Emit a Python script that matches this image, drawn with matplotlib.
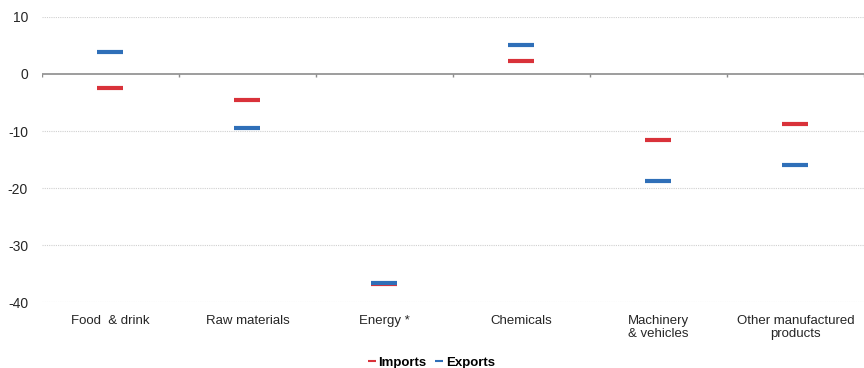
import matplotlib.pyplot as plt
import numpy as np

plt.rcParams['font.family'] = ['Liberation Sans', 'DejaVu Sans']
plt.rcParams['axes.unicode_minus'] = False

categories = ['Food  & drink', 'Raw materials', 'Energy *', 'Chemicals',
              'Machinery\n& vehicles', 'Other manufactured\nproducts']
imports = [-2.4, -4.6, -36.9, 2.2, -11.5, -8.7]
exports = [3.8, -9.4, -36.6, 5.1, -18.8, -16.0]

red = '#d9323a'
blue = '#2f6fb8'

fig = plt.figure(figsize=(8.64, 3.68), dpi=100)
ax = fig.add_axes([0.0486, 0.179, 0.9514, 0.775])

x = np.arange(len(categories))
ax.plot(x, imports, ls='none', marker='_', ms=18.5, mew=3, color=red, label='Imports', zorder=3)
ax.plot(x, exports, ls='none', marker='_', ms=18.5, mew=3, color=blue, label='Exports', zorder=4)

ax.set_xlim(-0.5, len(categories) - 0.5)
ax.set_ylim(-40, 10)
ax.set_yticks([10, 0, -10, -20, -30, -40])
for yv in [10, -10, -20, -30, -40]:
    ax.axhline(yv, color='#d0d0d0', lw=0.8, ls=(0, (1, 1)), zorder=1)
ax.axhline(0, color='#8c8c8c', lw=1.2, zorder=2)
ax.vlines(np.arange(len(categories) + 1) - 0.5, -0.6, 0, color='#8c8c8c', lw=1, zorder=2)

for s in ax.spines.values():
    s.set_visible(False)
ax.set_xticks(x)
ax.set_xticklabels(categories, fontsize=9.5, color='#262626', linespacing=1.15)
ax.tick_params(axis='x', length=0, pad=9)
ax.tick_params(axis='y', length=0, labelsize=10, colors='#262626', pad=10)

leg = fig.legend(loc='lower center', bbox_to_anchor=(0.5, -0.035), ncol=2, frameon=False,
                 handlelength=0.4, handletextpad=0.3, columnspacing=0.8,
                 prop={'weight': 'bold', 'size': 9.5}, markerscale=0.3)
for h in leg.legend_handles:
    h.set_markeredgewidth(1.5)

fig.savefig('out.png', dpi=100)
